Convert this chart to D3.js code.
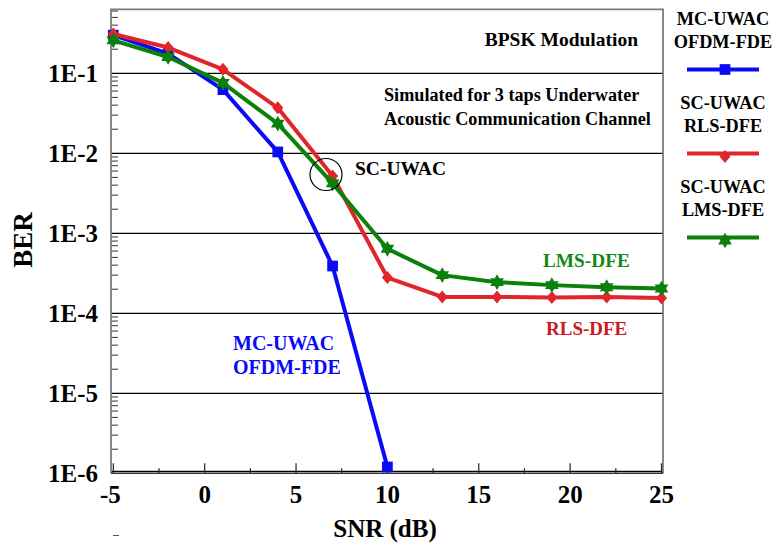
<!DOCTYPE html>
<html>
<head>
<meta charset="utf-8">
<script src="https://cdn.jsdelivr.net/npm/d3@7"></script>
<style>
  body { margin: 0; background: #fff; }
  text { font-family: "Liberation Serif", "Times New Roman", serif; font-weight: bold; }
</style>
</head>
<body>
<div id="chart"></div>
<script>
"use strict";

const width = 773,
      height = 545;

// values
const snr = [-5, -2, 1, 4, 7, 10, 13, 16, 19, 22, 25];
const berOfdm = [0.30, 0.176, 0.0625, 0.0104, 3.9e-4, 1.2e-6];
const berRls = [0.31, 0.21, 0.112, 0.037, 0.0052, 2.8e-4, 1.6e-4, 1.6e-4, 1.58e-4, 1.6e-4, 1.55e-4];
const berLms = [0.258, 0.16, 0.076, 0.0235, 0.0042, 6.4e-4, 3.0e-4, 2.45e-4, 2.25e-4, 2.12e-4, 2.04e-4];

const yDecades = [1e-1, 1e-2, 1e-3, 1e-4, 1e-5, 1e-6];
const yTickLabels = ["1E-1", "1E-2", "1E-3", "1E-4", "1E-5", "1E-6"];
const xMajor = [-5, 0, 5, 10, 15, 20, 25];
const xMinor = [-2.5, 2.5, 7.5, 12.5, 17.5, 22.5];

const legendNames = [["MC-UWAC", "OFDM-FDE"], ["SC-UWAC", "RLS-DFE"], ["SC-UWAC", "LMS-DFE"]];

const blue = "#0a0af5",
      red = "#e0252b",
      green = "#0b800b";

const x = d3.scaleLinear().domain([-5, 25]).range([113.3, 661.5]);
const y = d3.scaleLog().domain([1e-6, Math.pow(10, -0.2)]).range([473.3, 9.3]);

const plotLeft = 111, plotRight = 663, plotTop = 9.3, plotBottom = 473.3;

const svg = d3.select("#chart")
  .append("svg")
  .attr("width", width)
  .attr("height", height)
  .attr("viewBox", `0 0 ${width} ${height}`);

// six point star
const hexagram = {
  draw(context, size) {
    const r = Math.sqrt(size) * 0.75, ri = r / Math.sqrt(3);
    for (let k = 0; k < 12; k++) {
      const a = -Math.PI / 2 + k * Math.PI / 6;
      const rr = k % 2 === 0 ? r : ri;
      if (k === 0) context.moveTo(rr * Math.cos(a), rr * Math.sin(a));
      else context.lineTo(rr * Math.cos(a), rr * Math.sin(a));
    }
    context.closePath();
  }
};
const diamond = {
  draw(context, size) {
    const w = Math.sqrt(size) * 0.55, h = Math.sqrt(size) * 0.65;
    context.moveTo(0, -h);
    context.lineTo(w, 0);
    context.lineTo(0, h);
    context.lineTo(-w, 0);
    context.closePath();
  }
};

const series = [
  { values: berOfdm, color: blue, symbol: d3.symbolSquare, size: 115 },
  { values: berRls, color: red, symbol: diamond, size: 100 },
  { values: berLms, color: green, symbol: hexagram, size: 110 }
];

// grid lines
svg.append("g")
  .selectAll("line")
  .data(yDecades)
  .join("line")
    .attr("x1", plotLeft)
    .attr("x2", plotRight)
    .attr("y1", d => y(d) - (d === 1e-6 ? 2 : 0))
    .attr("y2", d => y(d) - (d === 1e-6 ? 2 : 0))
    .attr("stroke", "#000")
    .attr("stroke-width", 1.2);

// minor y ticks
const minorY = [];
for (let e = -6; e <= -1; e++) {
  for (let m = 2; m <= 9; m++) {
    const v = m * Math.pow(10, e);
    if (v <= Math.pow(10, -0.2)) minorY.push(v);
  }
}
svg.append("g")
  .selectAll("line")
  .data(minorY)
  .join("line")
    .attr("x1", plotLeft + 1)
    .attr("x2", plotLeft + 7)
    .attr("y1", d => y(d))
    .attr("y2", d => y(d))
    .attr("stroke", "#333")
    .attr("stroke-width", 1);

// x ticks
svg.append("g")
  .selectAll("line")
  .data(xMajor.map(v => [v, 10]).concat(xMinor.map(v => [v, 5])))
  .join("line")
    .attr("x1", d => x(d[0]))
    .attr("x2", d => x(d[0]))
    .attr("y1", plotBottom)
    .attr("y2", d => plotBottom - d[1])
    .attr("stroke", "#222")
    .attr("stroke-width", 1.2);

// frame
svg.append("path")
  .attr("d", `M${plotLeft},${plotBottom}V${plotTop}H${plotRight}V${plotBottom}`)
  .attr("fill", "none")
  .attr("stroke", "#7a7a7a")
  .attr("stroke-width", 1.8);
svg.append("line")
  .attr("x1", plotLeft).attr("x2", plotRight)
  .attr("y1", plotBottom).attr("y2", plotBottom)
  .attr("stroke", "#333")
  .attr("stroke-width", 1.5);

// stray dash under the axis
svg.append("line")
  .attr("x1", 113).attr("x2", 119)
  .attr("y1", 535.5).attr("y2", 535.5)
  .attr("stroke", "#555")
  .attr("stroke-width", 1);

// tick labels
svg.append("g")
  .selectAll("text")
  .data(yDecades)
  .join("text")
    .attr("x", 98)
    .attr("y", d => y(d))
    .attr("dy", "0.35em")
    .attr("text-anchor", "end")
    .attr("font-size", 25)
    .text((d, i) => yTickLabels[i]);

svg.append("g")
  .selectAll("text")
  .data(xMajor)
  .join("text")
    .attr("x", d => x(d) - (d < 0 ? 3 : 0))
    .attr("y", 503)
    .attr("text-anchor", "middle")
    .attr("font-size", 25)
    .text(d => d);

svg.append("text")
  .attr("x", 385)
  .attr("y", 537)
  .attr("text-anchor", "middle")
  .attr("font-size", 25)
  .text("SNR (dB)");

svg.append("text")
  .attr("transform", "translate(32,240) rotate(-90)")
  .attr("text-anchor", "middle")
  .attr("font-size", 27)
  .text("BER");

// curves
const line = d3.line()
  .x((d, i) => x(snr[i]))
  .y(d => y(d));

series.forEach(s => {
  svg.append("path")
    .attr("d", line(s.values))
    .attr("fill", "none")
    .attr("stroke", s.color)
    .attr("stroke-width", 4)
    .attr("stroke-linejoin", "round");
  svg.append("g")
    .selectAll("path")
    .data(s.values)
    .join("path")
      .attr("transform", (d, i) => `translate(${x(snr[i])},${y(d)})`)
      .attr("d", d3.symbol().type(s.symbol).size(s.size))
      .attr("fill", s.color);
});

// annotations
svg.append("text")
  .attr("x", 638).attr("y", 46)
  .attr("text-anchor", "end")
  .attr("font-size", 19.5)
  .text("BPSK Modulation");

svg.append("text")
  .attr("x", 384).attr("y", 101)
  .attr("font-size", 18.2)
  .text("Simulated for 3 taps Underwater");
svg.append("text")
  .attr("x", 384).attr("y", 124.5)
  .attr("font-size", 18.2)
  .text("Acoustic Communication Channel");

svg.append("circle")
  .attr("cx", 326).attr("cy", 174.5).attr("r", 16)
  .attr("fill", "none")
  .attr("stroke", "#000")
  .attr("stroke-width", 1.2);
svg.append("text")
  .attr("x", 355).attr("y", 175)
  .attr("font-size", 19.5)
  .text("SC-UWAC");

svg.append("text")
  .attr("x", 543).attr("y", 267)
  .attr("font-size", 19.3)
  .attr("fill", "#138a13")
  .text("LMS-DFE");
svg.append("text")
  .attr("x", 546).attr("y", 335)
  .attr("font-size", 19)
  .attr("fill", "#cc1820")
  .text("RLS-DFE");

svg.append("text")
  .attr("x", 233).attr("y", 350)
  .attr("font-size", 20)
  .attr("fill", blue)
  .text("MC-UWAC");
svg.append("text")
  .attr("x", 233).attr("y", 374)
  .attr("font-size", 20)
  .attr("fill", blue)
  .text("OFDM-FDE");

// legend
const legend = svg.append("g")
  .selectAll("g")
  .data(series)
  .join("g")
    .attr("transform", (d, i) => `translate(723,${i * 84})`);

legend.append("text")
  .attr("y", 25)
  .attr("text-anchor", "middle")
  .attr("font-size", 18.3)
  .text((d, i) => legendNames[i][0]);
legend.append("text")
  .attr("y", 47.5)
  .attr("text-anchor", "middle")
  .attr("font-size", 18.3)
  .text((d, i) => legendNames[i][1]);
legend.append("path")
  .attr("d", (d, i) => d3.symbol().type(d.symbol).size(d.size)())
  .attr("transform", (d, i) => `translate(2,${i === 0 ? 69.5 : 72.5})`)
  .attr("fill", d => d.color);
legend.append("line")
  .attr("x1", -36).attr("x2", 36)
  .attr("y1", 69.5).attr("y2", 69.5)
  .attr("stroke", d => d.color)
  .attr("stroke-width", 4);
</script>
</body>
</html>
